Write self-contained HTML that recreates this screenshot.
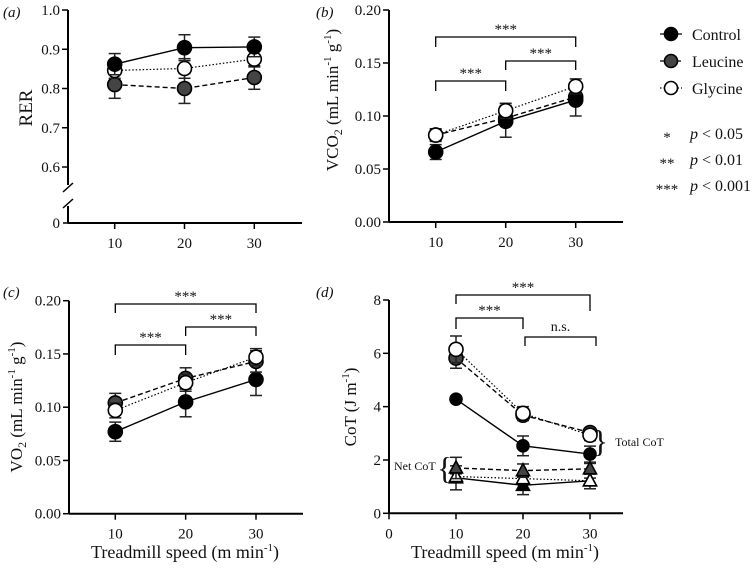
<!DOCTYPE html>
<html><head><meta charset="utf-8"><style>
body{margin:0;background:#fff}
svg{display:block;font-family:"Liberation Serif",serif}
</style></head><body>
<svg id="fig" width="752" height="569" viewBox="0 0 752 569"></svg>
<script>
const speeds=[10,20,30];
// (a) RER
const rerControl=[0.862,0.904,0.906], rerControlErr=[0.027,0.033,0.025];
const rerLeucine=[0.810,0.800,0.828], rerLeucineErr=[0.035,0.038,0.030];
const rerGlycine=[0.846,0.851,0.875], rerGlycineErr=[0.020,0.025,0.020];
// (b) VCO2
const vco2Control=[0.066,0.095,0.115], vco2ControlErr=[0.007,0.015,0.015];
const vco2Leucine=[0.082,0.098,0.118], vco2LeucineErr=[0.005,0.006,0.007];
const vco2Glycine=[0.082,0.105,0.128], vco2GlycineErr=[0.006,0.007,0.007];
// (c) VO2
const vo2Control=[0.077,0.105,0.126], vo2ControlErr=[0.009,0.014,0.015];
const vo2Leucine=[0.104,0.127,0.143], vo2LeucineErr=[0.009,0.010,0.010];
const vo2Glycine=[0.097,0.123,0.147], vo2GlycineErr=[0.007,0.008,0.008];
// (d) CoT
const totControl=[4.28,2.53,2.22], totControlErr=[0,0.37,0.30];
const totLeucine=[5.82,3.68,3.03], totLeucineErr=[0.38,0.20,0.15];
const totGlycine=[6.15,3.75,2.93], totGlycineErr=[0.50,0.25,0.20];
const netControl=[1.33,1.05,1.22], netControlErr=[0.45,0.35,0.30];
const netLeucine=[1.70,1.60,1.67], netLeucineErr=[0.40,0.25,0.20];
const netGlycine=[1.38,1.30,1.22], netGlycineErr=[0.10,0.10,0.10];
const ticksA=["0.6","0.7","0.8","0.9","1.0"];
const ticksB=["0.00","0.05","0.10","0.15","0.20"];
const ticksD=["0","2","4","6","8"];

const svg=document.getElementById('fig');
const NS='http://www.w3.org/2000/svg';
function el(tag,attrs,parent){const e=document.createElementNS(NS,tag);for(const k in attrs)e.setAttribute(k,attrs[k]);(parent||svg).appendChild(e);return e;}
function txt(s,x,y,o,name,parent){const t=el('text',Object.assign({x:x,y:y,'font-size':15,fill:'#111'},o||{}),parent);t.textContent=s;return t;}
function lin(d0,d1,r0,r1){return v=>r0+(v-d0)*(r1-r0)/(d1-d0);}

function axes(g,x0,xEnd,y0,yTop,ticks,yfn,xticks,xfn,name){
  const ax=el('g',{},g);
  el('line',{x1:x0,y1:yTop,x2:x0,y2:y0,stroke:'#000','stroke-width':2},ax);
  el('line',{x1:x0,y1:y0,x2:xEnd,y2:y0,stroke:'#000','stroke-width':2},ax);
  ticks.forEach(t=>{const y=yfn(parseFloat(t));el('line',{x1:x0-6,y1:y,x2:x0,y2:y,stroke:'#000','stroke-width':1.5},ax);txt(t,x0-8,y+5,{'text-anchor':'end'},name+'-ytick',ax);});
  xticks.forEach(v=>{const x=xfn(v);el('line',{x1:x,y1:y0,x2:x,y2:y0+6,stroke:'#000','stroke-width':1.5},ax);txt(String(v),x,y0+25,{'text-anchor':'middle'},name+'-xtick',ax);});
}
function series(g,xs,ys,errs,xfn,yfn,style,name,shape){
  const s=el('g',{},g);
  const pts=xs.map((x,i)=>[xfn(x),yfn(ys[i])]);
  el('polyline',{points:pts.map(p=>p.join(',')).join(' '),fill:'none',stroke:'#000','stroke-width':style.lw,'stroke-dasharray':style.dash},s);
  pts.forEach((p,i)=>{const e=errs[i];if(e>0){const a=yfn(ys[i]+e),b=yfn(ys[i]-e);
    el('line',{x1:p[0],y1:a,x2:p[0],y2:b,stroke:'#222','stroke-width':1.5},s);
    el('line',{x1:p[0]-6,y1:a,x2:p[0]+6,y2:a,stroke:'#222','stroke-width':1.5},s);
    el('line',{x1:p[0]-6,y1:b,x2:p[0]+6,y2:b,stroke:'#222','stroke-width':1.5},s);}});
  pts.forEach(p=>{let m;
    if(shape==='tri') m=el('polygon',{points:`${p[0]},${p[1]-7} ${p[0]-6.5},${p[1]+5} ${p[0]+6.5},${p[1]+5}`,fill:style.fill,stroke:'#000','stroke-width':1.6},s);
    else m=el('circle',{cx:p[0],cy:p[1],r:style.r||7,fill:style.fill,stroke:'#000','stroke-width':1.6},s);
    });
}
function bracket(g,xa,xb,y,ya,yb,label,name){
  const b=el('g',{},g);
  el('polyline',{points:`${xa},${ya} ${xa},${y} ${xb},${y} ${xb},${yb}`,fill:'none',stroke:'#000','stroke-width':1.3},b);
  txt(label,(xa+xb)/2,y-(label==='n.s.'?6:3),{'text-anchor':'middle','font-size':label==='n.s.'?14:15},name+'-label',b);
}
const C={fill:'#000',lw:1.4,dash:'none'}, L={fill:'#444',lw:1.4,dash:'5,3'}, G={fill:'#fff',lw:1.2,dash:'1.5,2'};
const supT='<tspan font-size="11" dy="-7">-1</tspan><tspan dy="7">';

// Panel a
{const g=el('g',{});
 const x=lin(10,30,114.7,254.3), y=lin(0.6,1.0,167,10);
 axes(g,68,302,223,10,ticksA,y,speeds,x,'panel-a');
 txt('0',60,228,{'text-anchor':'end'},'panel-a-ytick-zero',g);
 el('line',{x1:63,y1:223,x2:68,y2:223,stroke:'#000','stroke-width':1.5},g);
 el('rect',{x:62,y:185,width:12,height:21,fill:'#fff'},g);
 el('line',{x1:63,y1:192,x2:73,y2:183,stroke:'#000','stroke-width':1.5},g);
 el('line',{x1:63,y1:208,x2:73,y2:199,stroke:'#000','stroke-width':1.5},g);
 txt('(a)',3,17,{'font-style':'italic','font-size':15},'panel-a-letter',g);
 txt('RER',0,0,{'font-size':19,'text-anchor':'middle',transform:'translate(32,108) rotate(-90)'},'panel-a-y-title',g);
 series(g,speeds,rerLeucine,rerLeucineErr,x,y,L,'a-leucine');
 series(g,speeds,rerGlycine,rerGlycineErr,x,y,G,'a-glycine');
 series(g,speeds,rerControl,rerControlErr,x,y,C,'a-control');}
// Panel b
{const g=el('g',{});
 const x=lin(10,30,435.7,575.7), y=lin(0,0.2,222,10);
 axes(g,389,623,222,10,ticksB,y,speeds,x,'panel-b');
 txt('(b)',316,17,{'font-style':'italic','font-size':15},'panel-b-letter',g);
 const t=txt('',0,0,{'font-size':17,'text-anchor':'middle',transform:'translate(338,100) rotate(-90)'},'panel-b-y-title',g);
 t.innerHTML='VCO<tspan font-size="12" dy="4">2</tspan><tspan dy="-4"> (mL min</tspan>'+supT+' g</tspan>'+supT+')</tspan>';
 bracket(g,x(10),x(30),37,47,47,'***','b-bracket-10-30');
 bracket(g,x(20),x(30),61,70,70,'***','b-bracket-20-30');
 bracket(g,x(10),x(20),81,91,91,'***','b-bracket-10-20');
 series(g,speeds,vco2Leucine,vco2LeucineErr,x,y,L,'b-leucine');
 series(g,speeds,vco2Control,vco2ControlErr,x,y,C,'b-control');
 series(g,speeds,vco2Glycine,vco2GlycineErr,x,y,G,'b-glycine');}
// Panel c
{const g=el('g',{});
 const x=lin(10,30,115.3,256), y=lin(0,0.2,513.7,300.7);
 axes(g,69,303,513.7,300.7,ticksB,y,speeds,x,'panel-c');
 txt('(c)',3,297,{'font-style':'italic','font-size':15},'panel-c-letter',g);
 const t=txt('',0,0,{'font-size':17,'text-anchor':'middle',transform:'translate(22,407) rotate(-90)'},'panel-c-y-title',g);
 t.innerHTML='VO<tspan font-size="12" dy="4">2</tspan><tspan dy="-4"> (mL min</tspan>'+supT+' g</tspan>'+supT+')</tspan>';
 const xt=txt('',185,558,{'font-size':18,'text-anchor':'middle'},'panel-c-x-title',g);
 xt.innerHTML='Treadmill speed (m min'+supT+')</tspan>';
 bracket(g,x(10),x(30),304,313,313,'***','c-bracket-10-30');
 bracket(g,x(20),x(30),327,336,336,'***','c-bracket-20-30');
 bracket(g,x(10),x(20),345,355,355,'***','c-bracket-10-20');
 series(g,speeds,vo2Control,vo2ControlErr,x,y,C,'c-control');
 series(g,speeds,vo2Leucine,vo2LeucineErr,x,y,L,'c-leucine');
 series(g,speeds,vo2Glycine,vo2GlycineErr,x,y,G,'c-glycine');}
// Panel d
{const g=el('g',{});
 const x=lin(0,30,389,590), y=lin(0,8,513.3,300);
 axes(g,389,623,513.3,300,ticksD,y,[0,10,20,30],x,'panel-d');
 txt('(d)',316,297,{'font-style':'italic','font-size':15},'panel-d-letter',g);
 const t=txt('',0,0,{'font-size':17,'text-anchor':'middle',transform:'translate(356,407) rotate(-90)'},'panel-d-y-title',g);
 t.innerHTML='CoT (J m'+supT+')</tspan>';
 const xt=txt('',505,558,{'font-size':18,'text-anchor':'middle'},'panel-d-x-title',g);
 xt.innerHTML='Treadmill speed (m min'+supT+')</tspan>';
 bracket(g,x(10),x(30),295,304,311,'***','d-bracket-10-30');
 bracket(g,x(10),x(20),318,329,329,'***','d-bracket-10-20');
 bracket(g,x(20)+2,x(30)+6,337,346,346,'n.s.','d-bracket-20-30');
 series(g,speeds,totControl,totControlErr,x,y,Object.assign({},C,{r:6}),'d-total-control');
 series(g,speeds,totLeucine,totLeucineErr,x,y,L,'d-total-leucine');
 series(g,speeds,totGlycine,totGlycineErr,x,y,G,'d-total-glycine');
 series(g,speeds,netControl,netControlErr,x,y,C,'d-net-control','tri');
 series(g,speeds,netGlycine,netGlycineErr,x,y,G,'d-net-glycine','tri');
 series(g,speeds,netLeucine,netLeucineErr,x,y,L,'d-net-leucine','tri');
 txt('{',608,452,{'font-size':32},'total-cot-brace',g).setAttribute('transform','scale(-1,1) translate(-1216,0)');
 txt('Total CoT',615,446,{'font-size':12},'total-cot-label',g);
 txt('{',437,479,{'font-size':32},'net-cot-brace',g);
 txt('Net CoT',394,470,{'font-size':12},'net-cot-label',g);}
// Legend
{const g=el('g',{});
 [['Control',C,34],['Leucine',L,61],['Glycine',G,88]].forEach(([n,s,yy])=>{
  const e=el('g',{},g);
  el('line',{x1:660,y1:yy,x2:682,y2:yy,stroke:'#000','stroke-width':1.3,'stroke-dasharray':s.dash},e);
  el('circle',{cx:671,cy:yy,r:6.5,fill:s.fill,stroke:'#000','stroke-width':1.6},e);
  txt(n,692,yy+6,{'font-size':16},'legend-label',e);});
 [['*','p < 0.05',139],['**','p < 0.01',165],['***','p < 0.001',191]].forEach(([s,p,yy])=>{
  txt(s,667,yy+3,{'text-anchor':'middle','font-size':15},'sig-stars',g);
  const t=txt('',690,yy,{'font-size':16},'sig-pvalue',g);
  t.innerHTML='<tspan font-style="italic">p</tspan>'+p.slice(1).replace('<','&lt;');});}
</script>
</body></html>
